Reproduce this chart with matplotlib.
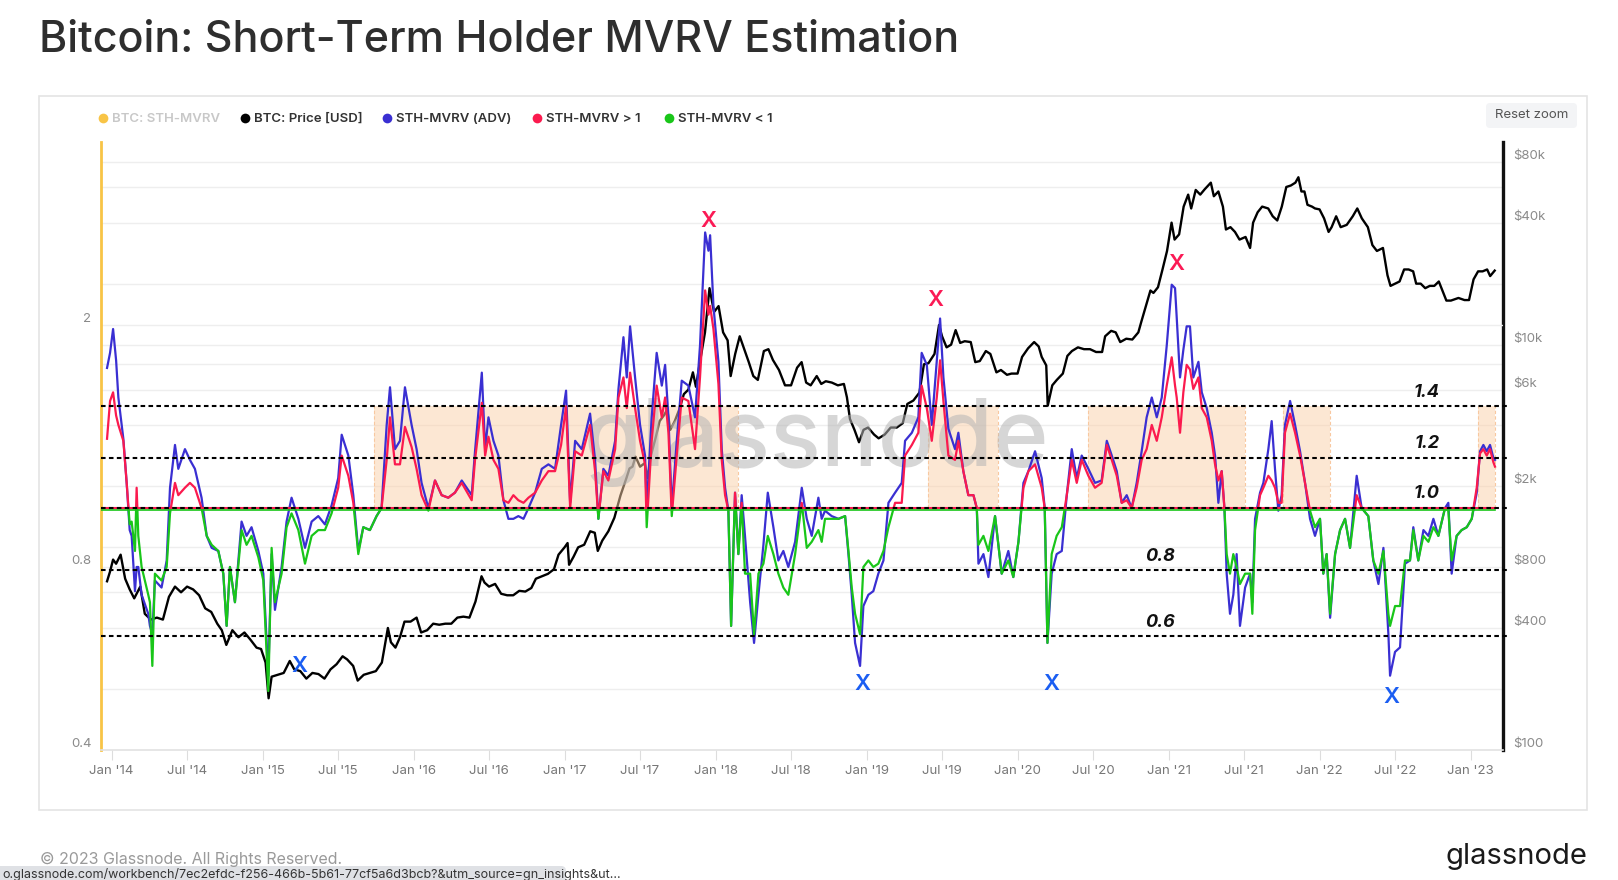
import numpy as np
import matplotlib
matplotlib.use("Agg")
import matplotlib.pyplot as plt
import matplotlib.transforms as mtrans
from matplotlib.patches import Rectangle, FancyBboxPatch
from matplotlib.ticker import NullLocator

plt.rcParams['font.family'] = ['Inter', 'DejaVu Sans']

# ---- data (decimal years) ----
mvrv_dates = [
    2013.97, 2013.99, 2014.01, 2014.03, 2014.045, 2014.078, 2014.10, 2014.12, 2014.133, 2014.155,
    2014.166, 2014.177, 2014.199, 2014.243, 2014.254, 2014.27, 2014.287, 2014.331, 2014.365, 2014.387,
    2014.42, 2014.442, 2014.486, 2014.519, 2014.552, 2014.596, 2014.63, 2014.663, 2014.707, 2014.74,
    2014.762, 2014.784, 2014.817, 2014.861, 2014.894, 2014.927, 2014.972, 2015.005, 2015.038, 2015.06,
    2015.082, 2015.126, 2015.159, 2015.192, 2015.237, 2015.281, 2015.325, 2015.369, 2015.413, 2015.457,
    2015.501, 2015.524, 2015.568, 2015.601, 2015.634, 2015.667, 2015.711, 2015.755, 2015.788, 2015.822,
    2015.844, 2015.877, 2015.91, 2015.943, 2015.987, 2016.02, 2016.053, 2016.098, 2016.142, 2016.186,
    2016.23, 2016.274, 2016.319, 2016.385, 2016.407, 2016.452, 2016.474, 2016.496, 2016.529, 2016.562,
    2016.595, 2016.628, 2016.661, 2016.694, 2016.728, 2016.761, 2016.805, 2016.849, 2016.893, 2016.937,
    2016.977, 2017.01, 2017.037, 2017.07, 2017.114, 2017.169, 2017.202, 2017.224, 2017.257, 2017.29,
    2017.335, 2017.357, 2017.39, 2017.412, 2017.434, 2017.467, 2017.50, 2017.533, 2017.544, 2017.577,
    2017.61, 2017.644, 2017.666, 2017.688, 2017.71, 2017.743, 2017.776, 2017.82, 2017.864, 2017.897,
    2017.931, 2017.953, 2017.964, 2017.986, 2018.019, 2018.041, 2018.063, 2018.085, 2018.103, 2018.129,
    2018.151, 2018.173, 2018.195, 2018.229, 2018.255, 2018.284, 2018.317, 2018.346, 2018.383, 2018.416,
    2018.449, 2018.482, 2018.527, 2018.571, 2018.604, 2018.637, 2018.681, 2018.703, 2018.725, 2018.769,
    2018.814, 2018.858, 2018.88, 2018.902, 2018.924, 2018.957, 2018.979, 2019.012, 2019.045, 2019.078,
    2019.112, 2019.145, 2019.189, 2019.233, 2019.255, 2019.30, 2019.343, 2019.365, 2019.399, 2019.432,
    2019.465, 2019.487, 2019.509, 2019.542, 2019.586, 2019.608, 2019.641, 2019.674, 2019.708, 2019.73,
    2019.741, 2019.774, 2019.807, 2019.851, 2019.895, 2019.939, 2019.972, 2020.006, 2020.039, 2020.072,
    2020.116, 2020.16, 2020.18, 2020.198, 2020.226, 2020.259, 2020.293, 2020.326, 2020.359, 2020.392,
    2020.425, 2020.469, 2020.513, 2020.557, 2020.591, 2020.624, 2020.657, 2020.69, 2020.723, 2020.756,
    2020.789, 2020.822, 2020.855, 2020.889, 2020.922, 2020.955, 2020.988, 2021.021, 2021.043, 2021.054,
    2021.076, 2021.098, 2021.12, 2021.142, 2021.164, 2021.198, 2021.22, 2021.253, 2021.286, 2021.308,
    2021.33, 2021.352, 2021.37, 2021.385, 2021.407, 2021.429, 2021.451, 2021.473, 2021.507, 2021.54,
    2021.555, 2021.573, 2021.606, 2021.628, 2021.661, 2021.683, 2021.705, 2021.727, 2021.749, 2021.771,
    2021.805, 2021.838, 2021.871, 2021.904, 2021.937, 2021.97, 2022.003, 2022.025, 2022.047, 2022.07,
    2022.103, 2022.136, 2022.169, 2022.202, 2022.246, 2022.279, 2022.323, 2022.356, 2022.39, 2022.423,
    2022.456, 2022.467, 2022.50, 2022.533, 2022.566, 2022.599, 2022.621, 2022.654, 2022.688, 2022.721,
    2022.754, 2022.787, 2022.831, 2022.853, 2022.875, 2022.908, 2022.941, 2022.975, 2023.008, 2023.041,
    2023.063, 2023.085, 2023.107, 2023.129, 2023.151, 2023.162,
]

# STH-MVRV (ADV), blue
mvrv_adv = [
    1.70, 1.80, 1.97, 1.75, 1.52, 1.30, 1.10, 0.92, 0.90, 0.73,
    0.80, 0.80, 0.72, 0.67, 0.64, 0.62, 0.76, 0.74, 0.82, 1.08,
    1.27, 1.16, 1.25, 1.20, 1.16, 1.04, 0.90, 0.86, 0.85, 0.78,
    0.64, 0.80, 0.70, 0.95, 0.90, 0.93, 0.85, 0.78, 0.53, 0.84,
    0.68, 0.80, 0.95, 1.04, 0.96, 0.86, 0.95, 0.97, 0.94, 1.01,
    1.12, 1.32, 1.22, 1.05, 0.85, 0.93, 0.92, 0.97, 1.00, 1.37,
    1.58, 1.25, 1.29, 1.58, 1.37, 1.25, 1.10, 1.00, 1.11, 1.05,
    1.04, 1.06, 1.11, 1.05, 1.24, 1.67, 1.25, 1.41, 1.29, 1.22,
    1.03, 0.96, 0.96, 0.97, 0.96, 1.00, 1.06, 1.16, 1.18, 1.16,
    1.37, 1.56, 1.02, 1.29, 1.25, 1.43, 1.20, 0.96, 1.16, 1.13,
    1.29, 1.57, 1.91, 1.64, 1.99, 1.64, 1.37, 1.22, 1.00, 1.41,
    1.80, 1.59, 1.72, 1.41, 1.00, 1.29, 1.62, 1.59, 1.41, 1.85,
    2.84, 2.65, 2.81, 2.15, 1.74, 1.25, 1.08, 0.99, 0.64, 1.06,
    0.84, 1.05, 0.90, 0.70, 0.60, 0.72, 0.87, 1.06, 0.93, 0.82,
    0.85, 0.80, 0.88, 1.08, 0.96, 0.90, 1.04, 0.96, 0.99, 0.97,
    0.96, 0.97, 0.84, 0.72, 0.60, 0.55, 0.69, 0.72, 0.73, 0.78,
    0.82, 1.02, 1.06, 1.10, 1.29, 1.33, 1.41, 1.80, 1.72, 1.37,
    1.75, 2.05, 1.64, 1.35, 1.25, 1.33, 1.15, 1.05, 1.05, 1.00,
    0.81, 0.84, 0.77, 0.97, 0.78, 0.85, 0.77, 0.88, 1.10, 1.15,
    1.24, 1.12, 1.00, 0.60, 0.78, 0.84, 0.85, 1.05, 1.25, 1.12,
    1.22, 1.16, 1.10, 1.11, 1.29, 1.22, 1.15, 1.02, 1.05, 1.00,
    1.10, 1.24, 1.41, 1.52, 1.41, 1.52, 1.85, 2.33, 2.30, 2.06,
    1.64, 1.82, 1.99, 1.99, 1.64, 1.74, 1.55, 1.46, 1.33, 1.22,
    1.02, 1.15, 1.00, 0.78, 0.67, 0.72, 0.84, 0.64, 0.74, 0.78,
    0.70, 0.96, 1.06, 1.10, 1.25, 1.39, 1.16, 0.99, 1.05, 1.37,
    1.50, 1.37, 1.24, 1.10, 0.96, 0.90, 0.96, 0.78, 0.84, 0.66,
    0.84, 0.92, 0.96, 0.86, 1.13, 1.00, 0.97, 0.82, 0.75, 0.86,
    0.62, 0.53, 0.58, 0.59, 0.81, 0.82, 0.93, 0.82, 0.92, 0.90,
    0.96, 0.90, 1.00, 1.02, 0.78, 0.90, 0.92, 0.93, 0.96, 1.06,
    1.24, 1.27, 1.24, 1.27, 1.21, 1.20,
]

# STH-MVRV, red above 1 / green below 1
mvrv_sth = [
    1.30, 1.50, 1.55, 1.42, 1.37, 1.29, 1.10, 0.94, 0.95, 0.85,
    1.08, 0.90, 0.80, 0.72, 0.70, 0.55, 0.78, 0.76, 0.80, 0.98,
    1.10, 1.05, 1.08, 1.10, 1.08, 1.00, 0.90, 0.87, 0.85, 0.78,
    0.64, 0.80, 0.70, 0.92, 0.87, 0.90, 0.83, 0.76, 0.50, 0.86,
    0.70, 0.78, 0.93, 0.98, 0.92, 0.81, 0.90, 0.92, 0.92, 0.98,
    1.08, 1.22, 1.13, 1.02, 0.84, 0.93, 0.92, 0.97, 1.00, 1.20,
    1.41, 1.18, 1.18, 1.36, 1.26, 1.16, 1.05, 0.99, 1.11, 1.05,
    1.04, 1.06, 1.10, 1.03, 1.20, 1.49, 1.22, 1.31, 1.20, 1.16,
    1.03, 1.02, 1.05, 1.03, 1.02, 1.04, 1.06, 1.11, 1.15, 1.15,
    1.27, 1.47, 1.00, 1.24, 1.22, 1.37, 1.15, 0.96, 1.15, 1.11,
    1.25, 1.52, 1.64, 1.46, 1.67, 1.46, 1.29, 1.18, 0.93, 1.29,
    1.59, 1.41, 1.52, 1.33, 0.97, 1.22, 1.52, 1.50, 1.25, 1.64,
    2.28, 2.08, 2.15, 1.97, 1.60, 1.20, 1.05, 0.99, 0.64, 1.06,
    0.84, 1.02, 0.78, 0.78, 0.62, 0.78, 0.81, 0.90, 0.84, 0.78,
    0.74, 0.72, 0.84, 1.02, 0.86, 0.88, 0.92, 0.88, 0.96, 0.96,
    0.96, 0.97, 0.85, 0.74, 0.67, 0.62, 0.80, 0.82, 0.80, 0.81,
    0.85, 0.93, 1.02, 1.02, 1.22, 1.27, 1.33, 1.59, 1.46, 1.29,
    1.52, 1.75, 1.50, 1.22, 1.20, 1.29, 1.15, 1.05, 1.05, 1.00,
    0.87, 0.90, 0.85, 0.97, 0.78, 0.82, 0.77, 0.88, 1.08, 1.15,
    1.18, 1.08, 1.00, 0.60, 0.84, 0.90, 0.93, 1.05, 1.20, 1.10,
    1.20, 1.13, 1.08, 1.10, 1.27, 1.20, 1.13, 1.02, 1.03, 1.00,
    1.08, 1.20, 1.25, 1.37, 1.29, 1.41, 1.59, 1.77, 1.59, 1.52,
    1.33, 1.55, 1.72, 1.69, 1.57, 1.64, 1.46, 1.41, 1.29, 1.18,
    1.11, 1.15, 1.00, 0.84, 0.78, 0.84, 0.80, 0.75, 0.78, 0.78,
    0.67, 0.92, 1.05, 1.08, 1.13, 1.11, 1.08, 1.02, 1.02, 1.33,
    1.43, 1.33, 1.22, 1.10, 0.99, 0.93, 0.96, 0.78, 0.84, 0.67,
    0.84, 0.92, 0.96, 0.86, 1.05, 1.00, 0.97, 0.82, 0.78, 0.85,
    0.67, 0.64, 0.69, 0.69, 0.82, 0.82, 0.92, 0.82, 0.90, 0.88,
    0.93, 0.90, 1.00, 0.99, 0.82, 0.90, 0.92, 0.93, 0.96, 1.08,
    1.23, 1.25, 1.22, 1.25, 1.19, 1.17,
]

price_dates = [
    2013.97, 2013.99, 2014.01, 2014.03, 2014.06, 2014.09, 2014.12, 2014.15, 2014.19, 2014.22,
    2014.26, 2014.30, 2014.34, 2014.38, 2014.42, 2014.46, 2014.50, 2014.54, 2014.58, 2014.62,
    2014.66, 2014.70, 2014.73, 2014.76, 2014.80, 2014.84, 2014.88, 2014.92, 2014.96, 2014.99,
    2015.02, 2015.04, 2015.06, 2015.10, 2015.14, 2015.18, 2015.21, 2015.25, 2015.29, 2015.33,
    2015.37, 2015.41, 2015.45, 2015.49, 2015.53, 2015.56, 2015.60, 2015.63, 2015.67, 2015.71,
    2015.75, 2015.79, 2015.83, 2015.85, 2015.88, 2015.91, 2015.94, 2015.98, 2016.02, 2016.05,
    2016.09, 2016.13, 2016.17, 2016.21, 2016.25, 2016.29, 2016.33, 2016.37, 2016.41, 2016.45,
    2016.47, 2016.50, 2016.54, 2016.58, 2016.62, 2016.66, 2016.70, 2016.74, 2016.78, 2016.81,
    2016.85, 2016.89, 2016.93, 2016.96, 2017.00, 2017.02, 2017.03, 2017.06, 2017.09, 2017.13,
    2017.17, 2017.20, 2017.22, 2017.25, 2017.29, 2017.33, 2017.37, 2017.41, 2017.43, 2017.45,
    2017.47, 2017.50, 2017.53, 2017.55, 2017.57, 2017.60, 2017.63, 2017.66, 2017.68, 2017.70,
    2017.73, 2017.76, 2017.79, 2017.82, 2017.85, 2017.87, 2017.90, 2017.93, 2017.96, 2017.99,
    2018.02, 2018.05, 2018.08, 2018.10, 2018.13, 2018.16, 2018.19, 2018.22, 2018.25, 2018.28,
    2018.32, 2018.35, 2018.38, 2018.42, 2018.46, 2018.50, 2018.54, 2018.57, 2018.60, 2018.63,
    2018.67, 2018.70, 2018.73, 2018.77, 2018.81, 2018.85, 2018.87, 2018.89, 2018.92, 2018.95,
    2018.98, 2019.01, 2019.05, 2019.08, 2019.12, 2019.16, 2019.20, 2019.24, 2019.27, 2019.31,
    2019.35, 2019.38, 2019.41, 2019.45, 2019.48, 2019.50, 2019.53, 2019.56, 2019.59, 2019.62,
    2019.65, 2019.69, 2019.72, 2019.75, 2019.79, 2019.82, 2019.86, 2019.89, 2019.93, 2019.96,
    2020.00, 2020.03, 2020.07, 2020.11, 2020.14, 2020.16, 2020.19, 2020.20, 2020.23, 2020.26,
    2020.30, 2020.33, 2020.36, 2020.40, 2020.44, 2020.48, 2020.52, 2020.56, 2020.58, 2020.62,
    2020.65, 2020.68, 2020.72, 2020.76, 2020.80, 2020.82, 2020.85, 2020.88, 2020.90, 2020.93,
    2020.96, 2020.99, 2021.02, 2021.04, 2021.07, 2021.10, 2021.13, 2021.15, 2021.18, 2021.21,
    2021.24, 2021.28, 2021.30, 2021.33, 2021.36, 2021.38, 2021.41, 2021.44, 2021.47, 2021.51,
    2021.54, 2021.56, 2021.59, 2021.62, 2021.66, 2021.69, 2021.72, 2021.75, 2021.78, 2021.81,
    2021.84, 2021.86, 2021.88, 2021.90, 2021.92, 2021.95, 2021.97, 2022.00, 2022.03, 2022.06,
    2022.08, 2022.11, 2022.14, 2022.18, 2022.22, 2022.25, 2022.28, 2022.32, 2022.35, 2022.38,
    2022.42, 2022.45, 2022.47, 2022.50, 2022.53, 2022.56, 2022.59, 2022.62, 2022.64, 2022.67,
    2022.70, 2022.73, 2022.76, 2022.79, 2022.84, 2022.87, 2022.92, 2022.96, 2022.99, 2023.02,
    2023.05, 2023.08, 2023.11, 2023.13, 2023.16,
]

price_usd = [
    680, 760, 870, 830, 920, 700, 620, 560, 640, 470,
    440, 450, 440, 570, 640, 600, 640, 620, 580, 500,
    480, 420, 390, 330, 390, 360, 380, 350, 320, 315,
    270, 180, 230, 235, 240, 275, 250, 245, 225, 240,
    237, 225, 250, 265, 290, 280, 260, 220, 235, 240,
    245, 270, 400, 340, 320, 360, 430, 430, 450, 380,
    390, 420, 415, 420, 420, 450, 455, 450, 540, 720,
    670, 640, 660, 590, 580, 580, 610, 605, 630, 700,
    720, 740, 780, 920, 1000, 1050, 820, 900, 1000, 1030,
    1200, 1180, 960, 1080, 1200, 1400, 1800, 2200, 2450, 2500,
    2800, 2500, 2600, 2200, 2800, 3400, 4200, 4500, 4800, 3800,
    4200, 4800, 5700, 6000, 7300, 6200, 8500, 11500, 19000, 14500,
    15500, 11500, 10500, 7000, 9000, 11000, 9500, 8200, 7000, 6700,
    9300, 9500, 8400, 7500, 6300, 6300, 7700, 8200, 6500, 6300,
    7000, 6400, 6600, 6500, 6300, 6400, 5500, 4300, 3800, 3300,
    3800, 3900, 3600, 3450, 3600, 3900, 3900, 4100, 5100, 5300,
    5800, 8000, 8100, 9000, 12500, 11000, 9700, 10000, 11800, 10200,
    10400, 10300, 8200, 8300, 9300, 9000, 7300, 7500, 7100, 7200,
    7200, 8700, 9600, 10300, 9800, 8700, 7900, 5000, 6300, 6700,
    7200, 8800, 9300, 9700, 9500, 9500, 9200, 9200, 11000, 11700,
    11500, 10300, 10700, 10600, 11500, 13000, 15500, 18500, 18000, 19200,
    23500, 29000, 40000, 33000, 35000, 48000, 55000, 47000, 58000, 55000,
    58500, 63000, 54000, 57000, 48000, 37000, 38000, 36000, 33000, 34000,
    30000, 40000, 45000, 48000, 47000, 43000, 41000, 48000, 60000, 61000,
    63000, 67000, 57000, 57000, 49000, 48000, 47000, 46500, 42000, 36000,
    38000, 43000, 38000, 39000, 43000, 47000, 42000, 38000, 31000, 29000,
    30000, 22000, 19500, 20000, 20500, 23500, 23500, 23000, 20000, 20000,
    19000, 19500, 19500, 20500, 16500, 16500, 17000, 16600, 16600, 21000,
    23000, 23000, 23500, 21800, 23200,
]

shade_starts = [2015.736, 2019.41, 2020.469, 2021.76, 2023.047]
shade_ends = [2018.148, 2019.869, 2021.507, 2022.07, 2023.162]
shade_top = 1.47

level_values = [1.47, 1.21, 1.0, 0.79, 0.615]
level_texts = ['1.4', '1.2', '1.0', '0.8', '0.6']
level_text_x = [2022.71, 2022.71, 2022.71, 2020.95, 2020.95]

top_x_dates = [2017.95, 2019.454, 2021.053]
top_x_vals = [2.965, 2.198, 2.52]
bottom_x_dates = [2015.242, 2018.97, 2020.226, 2022.474]
bottom_x_vals = [0.55, 0.513, 0.513, 0.489]

price_ticks = [100, 400, 800, 2000, 6000, 10000, 40000, 80000]
price_tick_labels = ['$100', '$400', '$800', '$2k', '$6k', '$10k', '$40k', '$80k']
price_grid = [200, 400, 600, 800, 1000, 2000, 4000, 6000, 8000, 10000, 20000, 40000, 60000, 80000]
mvrv_ticks = [0.4, 0.8, 2]
mvrv_tick_labels = ['0.4', '0.8', '2']

x_ticks = [2014 + 0.5 * i for i in range(19)]
x_tick_labels = []
for i in range(19):
    yr = 14 + i // 2
    x_tick_labels.append(("Jan '%02d" if i % 2 == 0 else "Jul '%02d") % yr)

BLUE = '#3a2fd2'
RED = '#fb1a4e'
GREEN = '#19c619'
YELLOW = '#f8c446'

# ---- figure ----
W, H = 1618, 880
fig = plt.figure(figsize=(W / 100, H / 100), dpi=100)

bg = fig.add_axes([0, 0, 1, 1], zorder=0)
bg.set_xlim(0, W)
bg.set_ylim(H, 0)
bg.axis('off')

bg.text(39, 40, 'Bitcoin: Short-Term Holder MVRV Estimation', fontsize=31, color='#2e2e2e',
        va='center', ha='left', fontweight='medium')
bg.add_patch(Rectangle((39, 96), 1548, 714, fill=False, ec='#e4e4e4', lw=1.2))

legend_x = [103, 245, 387, 537, 669]
legend_labels = ['BTC: STH-MVRV', 'BTC: Price [USD]', 'STH-MVRV (ADV)', 'STH-MVRV > 1', 'STH-MVRV < 1']
legend_cols = [YELLOW, 'black', BLUE, RED, GREEN]
legend_text_cols = ['#c8c8c8', '#333333', '#333333', '#333333', '#333333']
for lx, lab, c, tc in zip(legend_x, legend_labels, legend_cols, legend_text_cols):
    bg.plot([lx], [118], 'o', ms=7, color=c, mec='none')
    bg.text(lx + 9, 118.5, lab, fontsize=9.5, color=tc, va='center', ha='left', fontweight='semibold')

bg.add_patch(FancyBboxPatch((1486, 103), 91, 25, boxstyle='round,pad=0,rounding_size=4',
                            fc='#f3f4f6', ec='none'))
bg.text(1531.5, 115.5, 'Reset zoom', fontsize=9.5, color='#555555', ha='center', va='center')

bg.text(40, 859, '\u00a9 2023 Glassnode. All Rights Reserved.', fontsize=11.5, color='#9a9a9a',
        va='center', ha='left')
bg.text(1587, 857, 'glassnode', fontsize=21, color='#1a1a1a', va='center', ha='right')
bg.add_patch(FancyBboxPatch((-5, 866), 571, 20, boxstyle='round,pad=0,rounding_size=5',
                            fc='#dfe1e5', ec='none'))
bg.text(2, 874.5, 'o.glassnode.com/workbench/7ec2efdc-f256-466b-5b61-77cf5a6d3bcb?&utm_source=gn_insights&ut...',
        fontsize=9, color='#333333', va='center', ha='left')

rect = [101 / W, 1 - 750 / H, 1402 / W, 608 / H]
x_min, x_max = 2013.93, 2023.215

# price axis behind (gridlines + right labels)
ax2 = fig.add_axes(rect, zorder=1)
ax2.set_xlim(x_min, x_max)
ax2.set_yscale('log')
ax2.set_ylim(100, 100000)
ax2.yaxis.tick_right()
ax2.set_yticks(price_ticks)
ax2.set_yticklabels(price_tick_labels)
ax2.yaxis.set_minor_locator(NullLocator())
ax2.tick_params(axis='y', which='both', length=0, labelsize=9.5, labelcolor='#8a8a8a', pad=7)
for lbl in ax2.get_yticklabels():
    lbl.set_verticalalignment('bottom')
ax2.set_xticks([])
for g in price_grid:
    ax2.axhline(g, color='#eeeeee', lw=1, zorder=0)
for s in ['top', 'left', 'bottom']:
    ax2.spines[s].set_visible(False)
ax2.spines['right'].set_color('#111111')
ax2.spines['right'].set_linewidth(2.4)

# MVRV axis in front
ax = fig.add_axes(rect, zorder=2)
ax.patch.set_visible(False)
ax.set_xlim(x_min, x_max)
ax.set_yscale('log')
ax.set_ylim(0.4, 4.0)
ax.set_yticks(mvrv_ticks)
ax.set_yticklabels(mvrv_tick_labels)
ax.yaxis.set_minor_locator(NullLocator())
ax.tick_params(axis='y', which='both', length=0, labelsize=9.5, labelcolor='#8a8a8a', pad=7)
for lbl in ax.get_yticklabels():
    lbl.set_verticalalignment('bottom')
ax.set_xticks(x_ticks)
ax.set_xticklabels(x_tick_labels)
ax.tick_params(axis='x', length=7, color='#dddddd', labelsize=9.5, labelcolor='#777777', pad=4)
for s in ['top', 'right']:
    ax.spines[s].set_visible(False)
ax.spines['left'].set_color(YELLOW)
ax.spines['left'].set_linewidth(2)
ax.spines['bottom'].set_color('#e2e2e2')
ax.spines['bottom'].set_linewidth(1.2)
ax.axhline(2, color='#eeeeee', lw=1, zorder=0)

# price line (plotted on front axes with price transform)
ax.plot(price_dates, price_usd, color='black', lw=1.7, zorder=2, transform=ax2.transData)

# shaded zones between 1.0 and the 1.4 line, laid over the price line
for s0, s1 in zip(shade_starts, shade_ends):
    ax.add_patch(Rectangle((s0, 1.0), s1 - s0, shade_top - 1.0, fc='#fbd0a8', alpha=0.5,
                           ec='none', zorder=2.2))
    ax.vlines([s0, s1], 1.0, shade_top, colors='#f8c8a0', linestyles=(0, (3, 2)), lw=0.8, zorder=2.3)

ax.text(0.51, 0.505, 'glassnode', transform=ax.transAxes, fontsize=68, color='#b5b5b5',
        alpha=0.55, ha='center', va='center', fontweight='medium', zorder=2.4)

# MVRV lines
ax.plot(mvrv_dates, mvrv_adv, color=BLUE, lw=1.6, zorder=3)
red_line, = ax.plot(mvrv_dates, mvrv_sth, color=RED, lw=1.6, zorder=3.5)
green_line, = ax.plot(mvrv_dates, mvrv_sth, color=GREEN, lw=1.6, zorder=3.5)
red_line.set_clip_path(Rectangle((x_min, 1.0), x_max - x_min, 10, transform=ax.transData))
green_line.set_clip_path(Rectangle((x_min, 0.01), x_max - x_min, 0.99, transform=ax.transData))

# threshold line at 1.0
down = mtrans.offset_copy(ax.transData, fig=fig, x=0, y=-1.5, units='dots')
ax.plot([x_min, mvrv_dates[-1]], [1.0, 1.0], color=GREEN, lw=1.2, zorder=4, transform=down)
ax.plot([x_min, mvrv_dates[-1]], [1.0, 1.0], color=RED, lw=1.5, zorder=4.1)

# dotted reference levels
for v in level_values:
    ax.axhline(v, xmin=0, xmax=1.005, color='black', lw=1.5, ls=(0, (2.2, 1.6)),
               clip_on=False, zorder=6)
for t, tx, v in zip(level_texts, level_text_x, level_values):
    ax.annotate(t, (tx, v), xytext=(0, 4), textcoords='offset points', ha='center', va='bottom',
                fontsize=13, fontweight='bold', fontstyle='italic', color='#111111', zorder=7)

for d, v in zip(top_x_dates, top_x_vals):
    ax.text(d, v, 'X', color='#fb1a55', fontsize=16, fontweight='semibold', ha='center',
            va='center', zorder=7)
for d, v in zip(bottom_x_dates, bottom_x_vals):
    ax.text(d, v, 'X', color='#1b5ef2', fontsize=16, fontweight='semibold', ha='center',
            va='center', zorder=7)

fig.savefig('out.png', dpi=100)
